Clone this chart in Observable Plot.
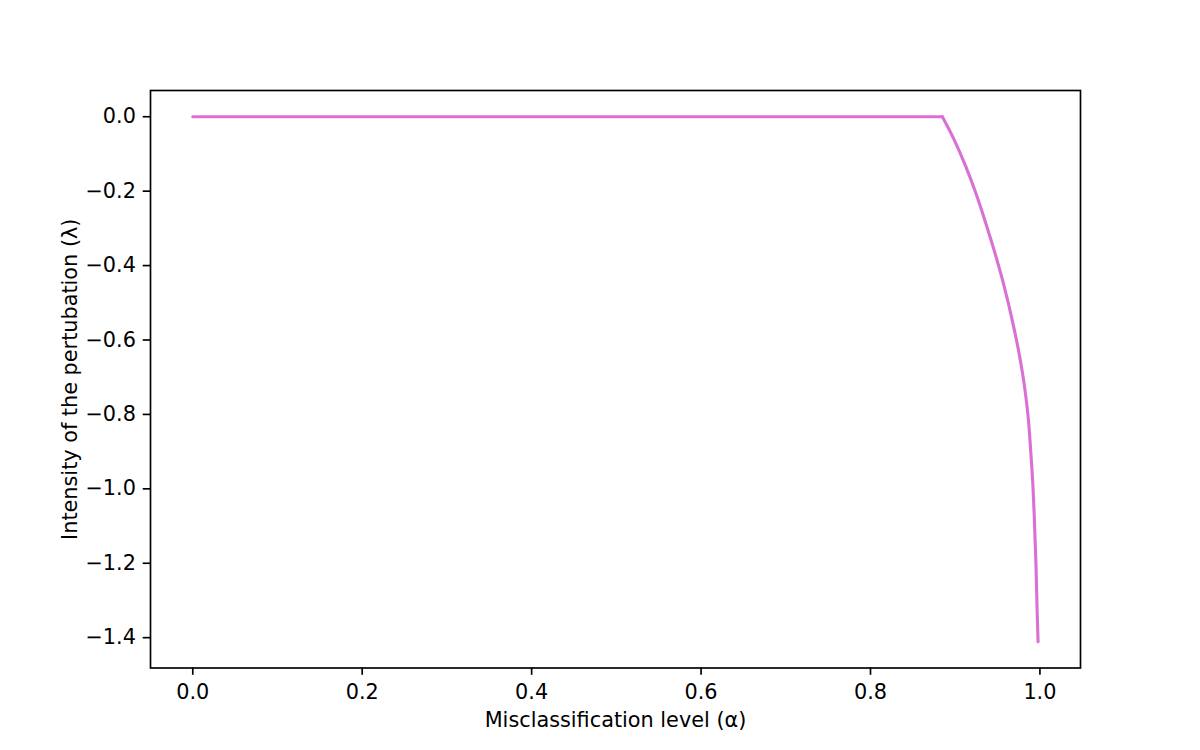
<!DOCTYPE html>
<html>
<head>
<meta charset="utf-8">
<script src="https://cdn.jsdelivr.net/npm/d3@7"></script>
<script src="https://cdn.jsdelivr.net/npm/@observablehq/plot@0.6"></script>
<style>
  html, body { margin: 0; padding: 0; background: white; }
  svg { display: block; }
</style>
</head>
<body>
<div id="chart"></div>
<script>
// Flat part of the curve (λ = 0 until the kink)
const alphaFlat = [0.0, 0.8848];
const lambdaFlat = [0.0, 0.0];
// Dropping part of the curve
const alphaDrop = [0.8848, 0.8984, 0.9122, 0.9240, 0.9358, 0.9466, 0.9576, 0.9682, 0.9762, 0.9821, 0.9868, 0.9896, 0.9918, 0.9932, 0.9953, 0.9968, 0.9978];
const lambdaDrop = [0.0, -0.060, -0.132, -0.203, -0.284, -0.364, -0.454, -0.556, -0.646, -0.730, -0.825, -0.914, -0.995, -1.066, -1.201, -1.335, -1.411];

const xTicks = [0.0, 0.2, 0.4, 0.6, 0.8, 1.0];
const yTicks = [0.0, -0.2, -0.4, -0.6, -0.8, -1.0, -1.2, -1.4];
const xLabel = "Misclassification level (α)";
const yLabel = "Intensity of the pertubation (λ)";
const lineColor = "#da70d6";

const flat = alphaFlat.map((a, i) => ({alpha: a, lambda: lambdaFlat[i]}));
const drop = alphaDrop.map((a, i) => ({alpha: a, lambda: lambdaDrop[i]}));

const fmt = d3.format(".1f");
const FS = 20.8;

const chart = Plot.plot({
  width: 1200,
  height: 750,
  marginLeft: 150,
  marginRight: 120,
  marginTop: 90,
  marginBottom: 82.5,
  style: {fontFamily: "DejaVu Sans", fontSize: FS + "px", background: "white", color: "black"},
  x: {domain: [-0.0499, 1.0479]},
  y: {domain: [-1.4815, 0.0705]},
  marks: [
    Plot.line(flat, {x: "alpha", y: "lambda", stroke: lineColor, strokeWidth: 3.1}),
    Plot.line(drop, {x: "alpha", y: "lambda", stroke: lineColor, strokeWidth: 3.1, curve: "monotone-x"}),
    Plot.frame({stroke: "black", strokeWidth: 1.67}),
    Plot.axisX({ticks: xTicks, tickFormat: fmt, tickSize: 7.3, tickPadding: 8.7, strokeWidth: 1.67, label: null, fontSize: FS}),
    Plot.axisY({ticks: yTicks, tickFormat: fmt, tickSize: 7.3, tickPadding: 7.3, strokeWidth: 1.67, label: null, fontSize: FS}),
    Plot.text([xLabel], {frameAnchor: "bottom", dy: 58.5, lineAnchor: "bottom", textAnchor: "middle", fontSize: FS, fill: "black"}),
    Plot.text([yLabel], {frameAnchor: "left", dx: -73.5, rotate: -90, lineAnchor: "bottom", textAnchor: "middle", fontSize: FS, fill: "black"})
  ]
});
document.getElementById("chart").appendChild(chart);
</script>
</body>
</html>
